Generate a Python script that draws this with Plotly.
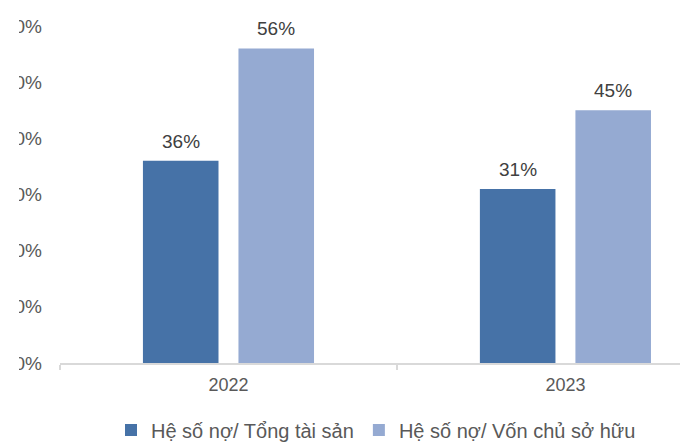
import plotly.graph_objects as go

years = ["2022", "2023"]
debt_assets = [0.36, 0.31]
debt_equity = [0.56, 0.45]
series_names = ["Hệ số nợ/ Tổng tài sản", "Hệ số nợ/ Vốn chủ sở hữu"]
y_ticks = [0, 0.1, 0.2, 0.3, 0.4, 0.5, 0.6]

W, H = 680, 442
ML, MR, MT, MB = 60, 0, 26, 79
FONT = "Liberation Sans, Arial, sans-serif"
BARGAP, BARGROUPGAP = 0.433, 0.209
XRANGE = [-0.5, 1.34]

pw = W - ML - MR
cat_px = pw / (XRANGE[1] - XRANGE[0])
slot_px = cat_px * (1 - BARGAP) / 2
colors = ["#4672A7", "#95AAD2"]

fig = go.Figure()
for name, vals, col in zip(series_names, [debt_assets, debt_equity], colors):
    fig.add_trace(go.Bar(x=years, y=vals, name=name, marker=dict(color=col, line=dict(width=0))))

annotations = []
for i, vals in enumerate([debt_assets, debt_equity]):
    shift = (i - 0.5) * slot_px
    for j, v in enumerate(vals):
        annotations.append(dict(
            x=j, y=v, xref="x", yref="y", text=f"{v*100:.0f}%",
            showarrow=False, xanchor="center", yanchor="bottom",
            xshift=shift, yshift=7,
            font=dict(size=19, color="#404040", family=FONT)))

fig.update_layout(
    width=W, height=H,
    margin=dict(l=ML, r=MR, t=MT, b=MB),
    paper_bgcolor="white", plot_bgcolor="white",
    barmode="group", bargap=BARGAP, bargroupgap=BARGROUPGAP,
    font=dict(family=FONT, color="#595959"),
    showlegend=True,
    legend=dict(orientation="h", x=(376 - ML) / pw, xanchor="center",
                yref="container", y=(H - 430) / H, yanchor="middle",
                font=dict(size=20, color="#595959"), itemwidth=30,
                traceorder="normal"),
    xaxis=dict(type="category", range=XRANGE,
               showline=True, linecolor="#D9D9D9", linewidth=1.5,
               ticks="outside", tickson="boundaries", ticklen=5,
               tickcolor="#D9D9D9", tickwidth=1.5, ticklabelstandoff=5,
               tickfont=dict(size=18, color="#595959"), showgrid=False),
    yaxis=dict(range=[0, 0.6], tickvals=y_ticks, tickformat=".0%",
               showgrid=False, showline=False, zeroline=False,
               tickfont=dict(size=19, color="#595959"),
               ticklabelstandoff=17, automargin=False),
    annotations=annotations,
    shapes=[dict(type="rect", xref="paper", yref="paper",
                 x0=-0.2, x1=(19 - ML) / pw, y0=-0.1, y1=1.1,
                 fillcolor="white", line=dict(width=0), layer="above")],
)

fig.write_html("out.html")
